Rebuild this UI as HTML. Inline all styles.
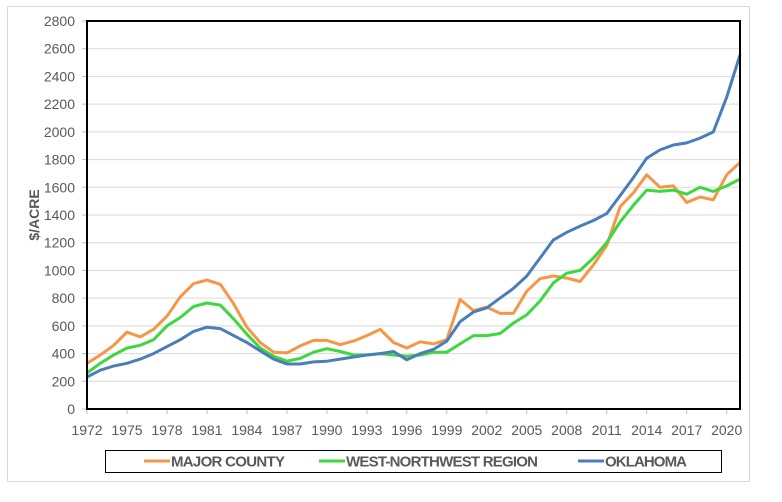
<!DOCTYPE html>
<html><head><meta charset="utf-8"><style>
body{margin:0;background:#fff;width:782px;height:497px;overflow:hidden}
text{font-family:"Liberation Sans",sans-serif;fill:#595959}
</style></head><body>
<svg id="s" width="782" height="497" xmlns="http://www.w3.org/2000/svg">
<rect x="7.5" y="6.5" width="742" height="475" fill="#fff" stroke="#d9d9d9"/>
<g id="grid"></g>
<g id="lines" fill="none" stroke-width="3" stroke-linejoin="round"></g>
<rect x="87" y="21" width="653" height="388" fill="none" stroke="#000" stroke-width="2"/>
<text x="0" y="0" transform="translate(39,215) rotate(-90)" text-anchor="middle" font-size="14" font-weight="bold" style="fill:#595959">$/ACRE</text>
<rect x="105.5" y="450.5" width="616" height="22" fill="#fff" stroke="#000"/>
<line x1="144" y1="461" x2="170" y2="461" stroke="#f79646" stroke-width="3"/>
<text x="171" y="466.5" font-size="15" font-weight="bold" textLength="114">MAJOR COUNTY</text>
<line x1="319" y1="461" x2="345" y2="461" stroke="#3ed83e" stroke-width="3"/>
<text x="346" y="466.5" font-size="15" font-weight="bold" textLength="192">WEST-NORTHWEST REGION</text>
<line x1="578" y1="461" x2="604" y2="461" stroke="#4a7ebb" stroke-width="3"/>
<text x="605" y="466.5" font-size="15" font-weight="bold" textLength="82">OKLAHOMA</text>
</svg>
<script>
const NS="http://www.w3.org/2000/svg";
const X=y=>87+(y-1972)*653/49, Y=v=>409-v*388/2800;
const g=document.getElementById('grid');
function el(t,a,txt){const e=document.createElementNS(NS,t);for(const k in a)e.setAttribute(k,a[k]);if(txt!=null)e.textContent=txt;return e;}
for(let v=0;v<=2800;v+=200){const y=Y(v);
 if(v>0&&v<2800)g.appendChild(el('line',{x1:87,x2:740,y1:y,y2:y,stroke:'#d9d9d9','stroke-width':1}));
 g.appendChild(el('line',{x1:82,x2:87,y1:y,y2:y,stroke:'#bfbfbf'}));
 g.appendChild(el('text',{x:75,y:y+5,'text-anchor':'end','font-size':14},v));}
for(let yr=1972;yr<=2021;yr+=3){const x=X(yr);
 g.appendChild(el('line',{x1:x,x2:x,y1:409,y2:414,stroke:'#bfbfbf'}));
 g.appendChild(el('text',{x:x,y:435,'text-anchor':'middle','font-size':14},yr));}
const M=[330,390,460,555,520,575,670,810,905,930,900,760,590,480,410,405,455,495,495,465,490,530,575,480,440,485,470,500,790,710,735,690,690,850,940,960,945,920,1040,1180,1460,1560,1690,1600,1610,1490,1530,1510,1690,1780];
const W=[260,330,390,440,460,500,600,660,740,765,750,650,540,440,380,345,365,410,435,415,390,390,400,390,380,390,410,410,470,530,530,545,620,680,780,910,980,1000,1090,1200,1350,1470,1580,1570,1580,1550,1600,1570,1610,1660];
const O=[230,280,310,330,360,400,450,500,560,590,580,530,480,420,360,325,325,340,345,360,375,390,400,415,355,400,430,490,630,700,730,800,870,960,1090,1220,1275,1320,1360,1410,1540,1670,1810,1870,1905,1920,1955,2000,2250,2555];
const L=document.getElementById('lines');
[[M,'#f79646'],[W,'#3ed83e'],[O,'#4a7ebb']].forEach(([d,c])=>{
 L.appendChild(el('polyline',{points:d.map((v,i)=>X(1972+i).toFixed(1)+','+Y(v).toFixed(1)).join(' '),stroke:c}));});
</script>
</body></html>
